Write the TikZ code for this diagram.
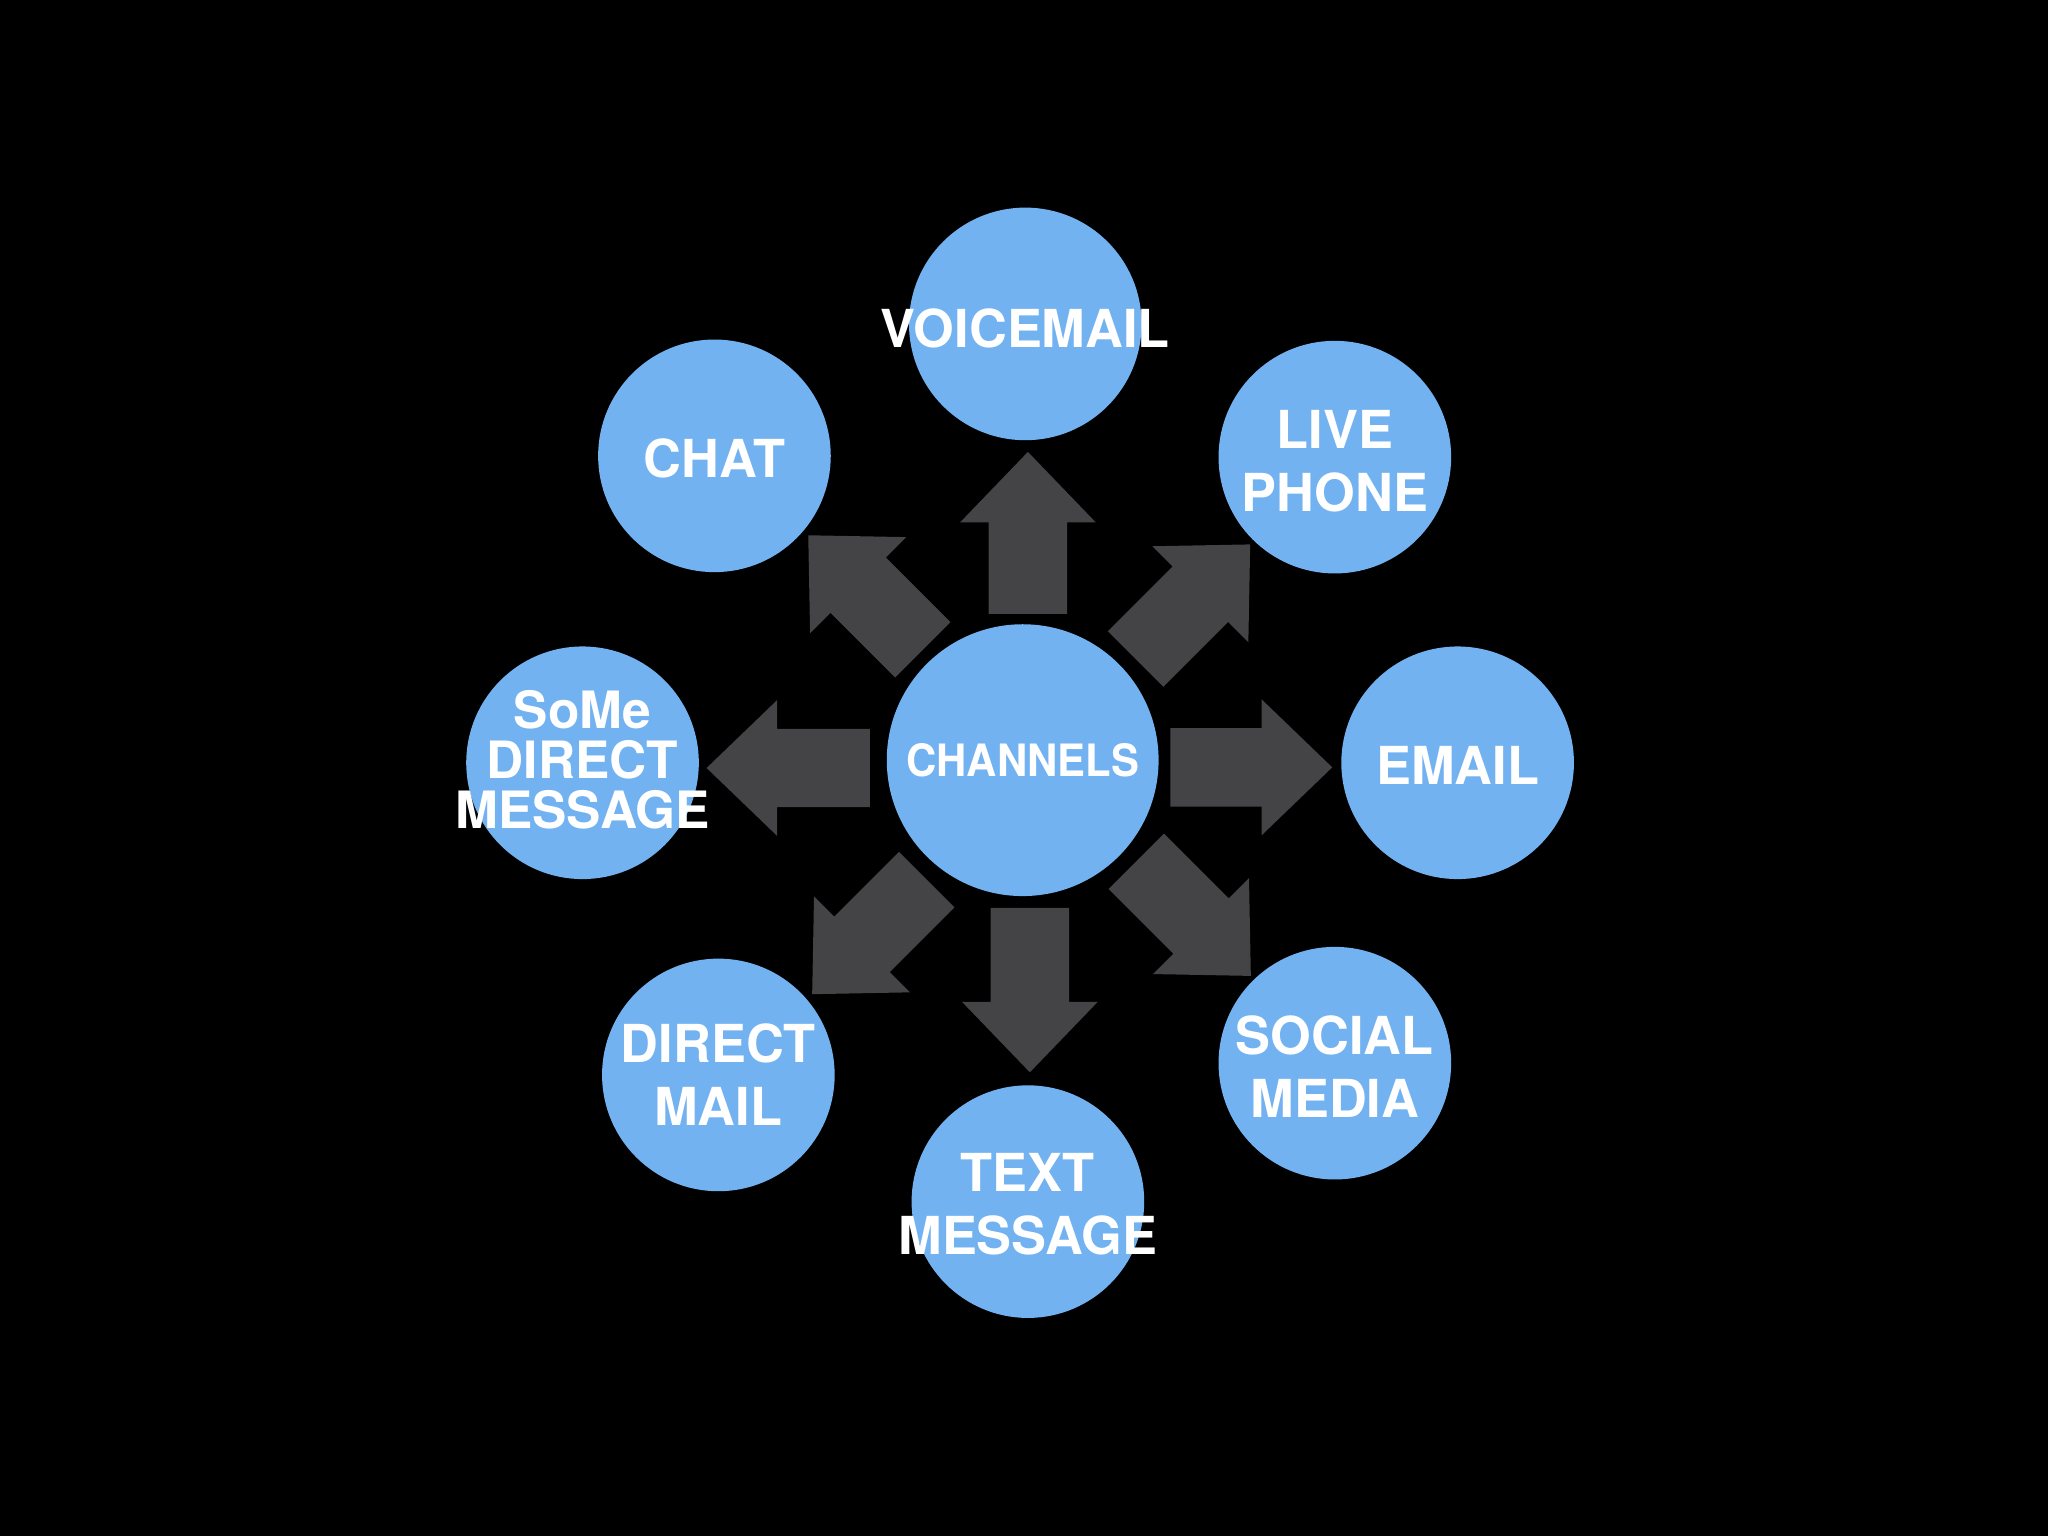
\documentclass[tikz,border=0pt]{standalone}
\usepackage{fontspec}
\usepackage{graphicx}
\setmainfont{TeX Gyre Heros}
\definecolor{bubble}{HTML}{72B2F1}
\definecolor{arrowgray}{HTML}{444346}
\tikzset{
  bub/.style={circle, fill=bubble, draw=none, minimum size=1.78cm, inner sep=0pt},
  hub/.style={circle, fill=bubble, draw=none, minimum size=2.08cm, inner sep=0pt},
  lbl/.style={text=white, font=\fontsize{11.4}{13.7}\selectfont\bfseries, align=center, inner sep=0pt},
  lblthree/.style={text=white, font=\fontsize{11.2}{10.9}\selectfont\bfseries, align=center, inner sep=0pt},
  hublbl/.style={text=white, font=\fontsize{9.7}{11}\selectfont\bfseries, align=center, inner sep=0pt},
  blockarrow/.style={fill=arrowgray, draw=none}
}
\newcommand{\blockarr}[3]{%
  \begin{scope}[shift={(#1)}, rotate=#2]
    \fill[blockarrow] (0,-30) -- (#3,-30) -- (#3,-52) -- ({#3+54},0) -- (#3,52) -- (#3,30) -- (0,30) -- cycle;
  \end{scope}}
\begin{document}
\begin{tikzpicture}[x=0.01cm, y=-0.01cm]
\fill[black] (0,0) rectangle (1568,1176);
\useasboundingbox (0,0) rectangle (1568,1176);

% arrows
\coordinate (aUp) at (787,470);
\coordinate (aRight) at (896,587.5);
\coordinate (aLeft) at (666,588);
\coordinate (aDown) at (788.5,695);
\coordinate (aUR) at (869.5,504.5);
\coordinate (aUL) at (706.5,497.5);
\coordinate (aDL) at (709.5,673.5);
\coordinate (aDR) at (870,659.5);
\blockarr{aUp}{90}{70}
\blockarr{aRight}{0}{70}
\blockarr{aLeft}{180}{71}
\blockarr{aDown}{270}{72}
\blockarr{aUR}{45}{70}
\blockarr{aUL}{135}{70}
\blockarr{aDL}{225}{70}
\blockarr{aDR}{315}{70}

% circles
\node[hub] (ch) at (783,582) {};
\node[bub] (voice) at (785,248) {};
\node[bub] (chat) at (547,349) {};
\node[bub] (live) at (1022,350) {};
\node[bub] (email) at (1116,584) {};
\node[bub] (some) at (446,584) {};
\node[bub] (dmail) at (550,823) {};
\node[bub] (text) at (787,920) {};
\node[bub] (social) at (1022,814) {};

% labels
\node[hublbl] at (ch) {\scalebox{0.94}[1]{CHANNELS}};
\node[lbl] at ([yshift=-0.035cm]voice.center) {VOICEMAIL};
\node[lbl] at ([yshift=-0.02cm]chat.center) {CHAT};
\node[lbl] at ([yshift=-0.03cm]live.center) {LIVE\\PHONE};
\node[lbl] at ([yshift=-0.02cm]email.center) {EMAIL};
\node[lblthree] at ([yshift=0.02cm]some.center) {SoMe\\DIRECT\\MESSAGE};
\node[lbl] at (dmail.center) {DIRECT\\MAIL};
\node[lbl] at ([yshift=-0.02cm]text.center) {TEXT\\MESSAGE};
\node[lbl] at ([yshift=-0.025cm]social.center) {SOCIAL\\MEDIA};
\end{tikzpicture}
\end{document}
